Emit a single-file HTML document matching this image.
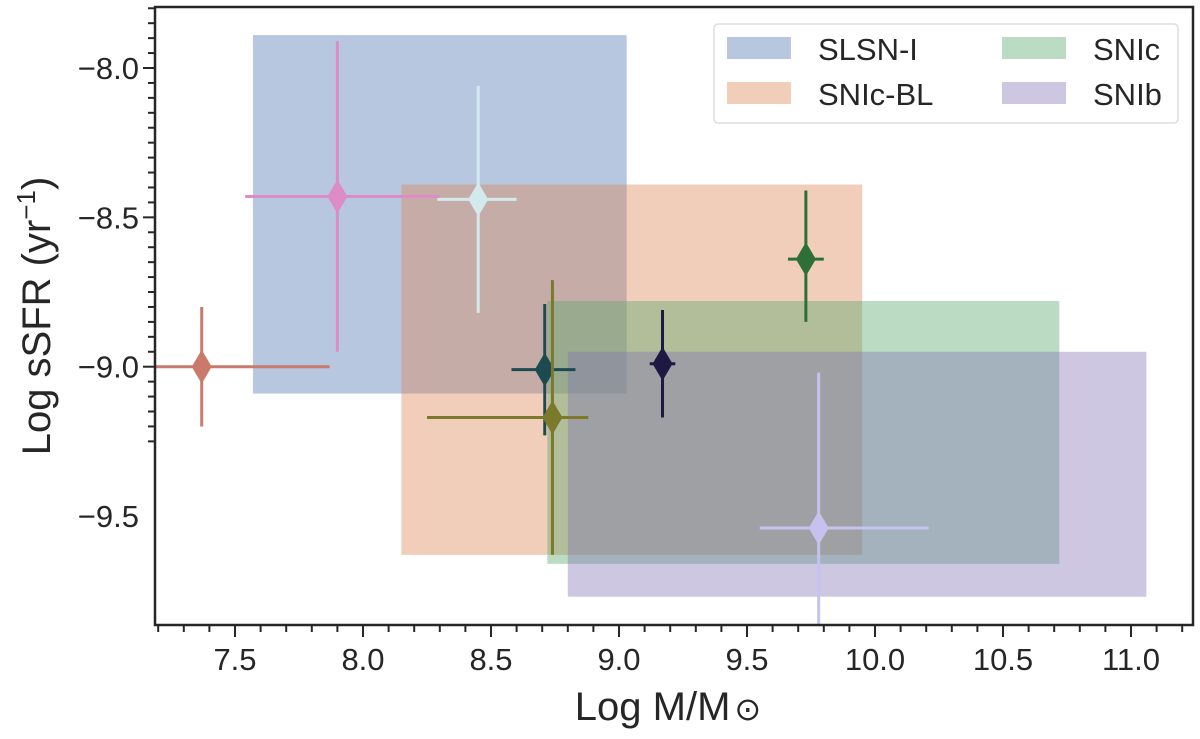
<!DOCTYPE html>
<html><head><meta charset="utf-8"><style>
body{margin:0;background:#fff;width:1200px;height:734px;overflow:hidden}
svg{font-family:"Liberation Sans",sans-serif}
</style></head><body>
<svg id="chart" width="1200" height="734" viewBox="0 0 1200 734" xmlns="http://www.w3.org/2000/svg">
<defs><clipPath id="clip"><rect x="155" y="7" width="1038" height="618"/></clipPath></defs>
<g id="regions" clip-path="url(#clip)"></g>
<g id="points" clip-path="url(#clip)"></g>
<g id="axes"></g>
<rect x="155" y="7" width="1038" height="618" fill="none" stroke="#262626" stroke-width="2.5"/>
<g>
<rect x="714" y="24" width="464" height="99" rx="4" fill="#fff" fill-opacity="0.8" stroke="#ddd" stroke-width="1.5"/>
<rect x="727" y="37" width="64" height="22" fill="#4c72b0" fill-opacity="0.4"/>
<text x="818" y="60" font-size="31" fill="#262626">SLSN-I</text>
<rect x="727" y="82" width="64" height="22" fill="#dd8452" fill-opacity="0.4"/>
<text x="818" y="105" font-size="31" fill="#262626">SNIc-BL</text>
<rect x="1002" y="37" width="64" height="22" fill="#55a868" fill-opacity="0.4"/>
<text x="1093" y="60" font-size="31" fill="#262626">SNIc</text>
<rect x="1002" y="82" width="64" height="22" fill="#8172b3" fill-opacity="0.4"/>
<text x="1093" y="105" font-size="31" fill="#262626">SNIb</text>
</g>
<text x="668" y="720" font-size="40" fill="#262626" text-anchor="middle">Log M/M<tspan font-family="DejaVu Sans" font-size="32" dx="4">⊙</tspan></text>
<text transform="translate(50,316) rotate(-90)" font-size="40" fill="#262626" text-anchor="middle">Log sSFR (yr<tspan font-size="26" dy="-15">−1</tspan><tspan dy="15">)</tspan></text>
</svg>
<script>
const regionNames=["SLSN-I","SNIc-BL","SNIc","SNIb"];
const regionX0=[7.57,8.15,8.72,8.80];
const regionX1=[9.03,9.95,10.72,11.06];
const regionY0=[-7.89,-8.39,-8.78,-8.95];
const regionY1=[-9.09,-9.63,-9.66,-9.77];
const regionColors=["#4c72b0","#dd8452","#55a868","#8172b3"];

const ptX=[7.37,7.90,8.45,8.71,8.74,9.17,9.73,9.78];
const ptY=[-9.00,-8.43,-8.44,-9.01,-9.17,-8.99,-8.64,-9.54];
const ptXerrLo=[0.5,0.36,0.16,0.13,0.49,0.05,0.07,0.23];
const ptXerrHi=[0.5,0.40,0.15,0.12,0.14,0.05,0.07,0.43];
const ptYerrLo=[0.2,0.52,0.38,0.22,0.46,0.18,0.21,0.52];
const ptYerrHi=[0.2,0.52,0.38,0.22,0.46,0.18,0.23,0.52];
const ptColors=["#c97a6b","#dd8cc8","#d2eaee","#1d4a50","#7b7a2c","#1c1a42","#2e6f36","#c6c2f0"];

const xTicks=[7.5,8.0,8.5,9.0,9.5,10.0,10.5,11.0];
const xTickLabels=["7.5","8.0","8.5","9.0","9.5","10.0","10.5","11.0"];
const yTicks=[-8.0,-8.5,-9.0,-9.5];
const yTickLabels=["−8.0","−8.5","−9.0","−9.5"];

const X=v=>235+(v-7.5)*256;
const Y=v=>68-(v+8)*298.7;
const NS="http://www.w3.org/2000/svg";
function mk(tag,attrs,parent){const e=document.createElementNS(NS,tag);for(const k in attrs)e.setAttribute(k,attrs[k]);parent.appendChild(e);return e;}

const gR=document.getElementById('regions');
regionNames.forEach((n,i)=>{
  const r=mk('rect',{x:X(regionX0[i]),y:Y(regionY0[i]),width:X(regionX1[i])-X(regionX0[i]),height:Y(regionY1[i])-Y(regionY0[i]),fill:regionColors[i],'fill-opacity':0.4},gR);
  
  
});
const gP=document.getElementById('points');
ptX.forEach((v,i)=>{
  const g=mk('g',{},gP);
  
  
  const cx=X(v),cy=Y(ptY[i]);
  mk('line',{x1:X(v-ptXerrLo[i]),x2:X(v+ptXerrHi[i]),y1:cy,y2:cy,stroke:ptColors[i],'stroke-width':3},g);
  mk('line',{x1:cx,x2:cx,y1:Y(ptY[i]+ptYerrHi[i]),y2:Y(ptY[i]-ptYerrLo[i]),stroke:ptColors[i],'stroke-width':3},g);
  mk('polygon',{points:`${cx},${cy-17} ${cx+10},${cy} ${cx},${cy+17} ${cx-10},${cy}`,fill:ptColors[i]},g);
});
const gA=document.getElementById('axes');
for(let k=0;k<=41;k++){const v=7.2+k*0.1;const x=X(v);if(x<155||x>1193)continue;
  const major=Math.abs(v*2-Math.round(v*2))<1e-6;
  mk('line',{x1:x,x2:x,y1:625,y2:625+(major?12:7),stroke:'#262626','stroke-width':2},gA);}
for(let k=0;k<=30;k++){const v=-7.75-k*0.05;const y=Y(v);if(y<7||y>625)continue;
  const major=Math.abs(v*2-Math.round(v*2))<1e-6;
  mk('line',{x1:155,x2:155-(major?12:7),y1:y,y2:y,stroke:'#262626','stroke-width':2},gA);}
xTicks.forEach((v,i)=>{const t=mk('text',{x:X(v),y:670,'font-size':31,fill:'#262626','text-anchor':'middle'},gA);t.textContent=xTickLabels[i];
  
  });
yTicks.forEach((v,i)=>{const t=mk('text',{x:139,y:Y(v)+11,'font-size':31,fill:'#262626','text-anchor':'end'},gA);t.textContent=yTickLabels[i];
  
  });
</script>
</body></html>
